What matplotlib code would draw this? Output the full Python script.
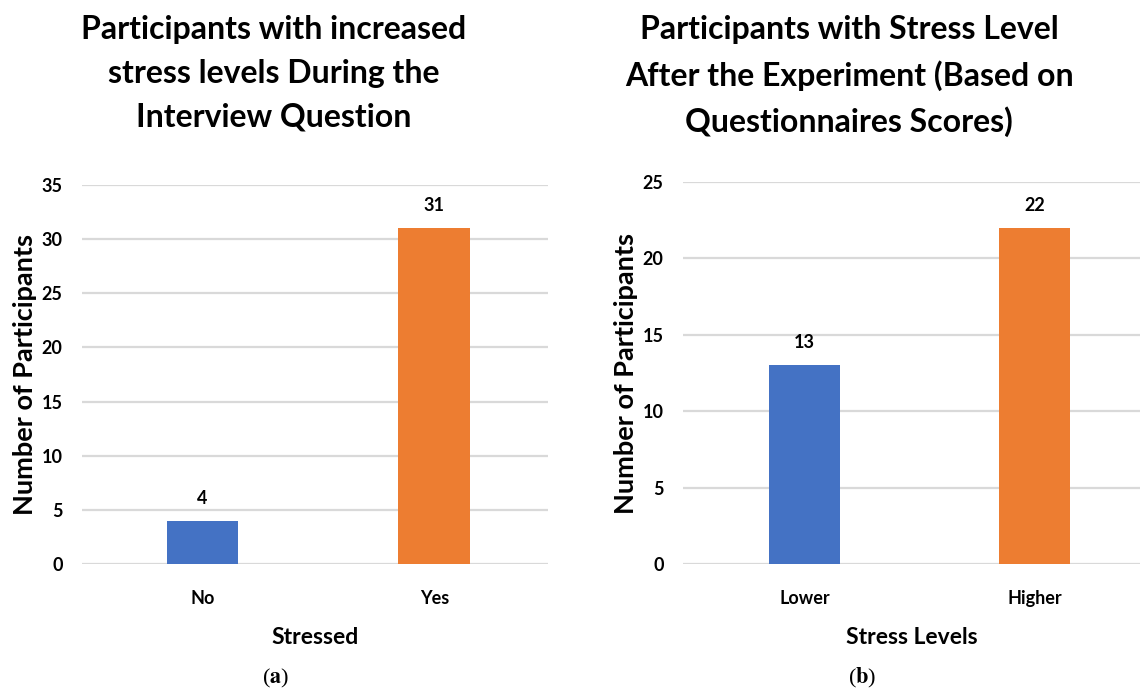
import matplotlib
matplotlib.use("Agg")
import matplotlib.pyplot as plt

plt.rcParams["font.family"] = ["Lato", "DejaVu Sans"]
plt.rcParams["mathtext.fontset"] = "stix"

BLUE = "#4472C4"
ORANGE = "#ED7D31"
GRID = "#d9d9d9"

stressed_labels = ["No", "Yes"]
stressed_counts = [4, 31]

level_labels = ["Lower", "Higher"]
level_counts = [13, 22]

W, H = 1142, 696
fig = plt.figure(figsize=(W / 100, H / 100), dpi=100)


def draw_panel(ax, labels, counts, ymax, xlim, xlabel):
    x = range(len(labels))
    ax.bar(x, counts, width=0.31, color=[BLUE, ORANGE], zorder=3)
    for xi, c in zip(x, counts):
        ax.annotate(str(c), (xi, c), xytext=(0, 10), textcoords="offset points",
                    ha="center", va="bottom", fontsize=13, fontweight="bold")
    ax.set_ylim(0, ymax)
    ax.set_xlim(*xlim)
    ax.set_yticks(range(0, ymax + 1, 5))
    ax.yaxis.grid(True, color=GRID, linewidth=1.6, zorder=0)
    ax.set_xticks(list(x))
    ax.set_xticklabels(labels)
    for s in ax.spines.values():
        s.set_visible(False)
    ax.tick_params(length=0)
    ax.tick_params(axis="y", pad=14, labelsize=13)
    ax.tick_params(axis="x", pad=19, labelsize=13)
    for t in ax.get_xticklabels() + ax.get_yticklabels():
        t.set_fontweight("bold")
    ax.set_ylabel("Number of Participants", fontsize=19.5, fontweight="bold", labelpad=3)
    ax.set_xlabel(xlabel, fontsize=16.5, fontweight="bold", labelpad=14)


ax1 = fig.add_axes([82 / W, 1 - 564 / H, 466 / W, (564 - 185) / H])
draw_panel(ax1, stressed_labels, stressed_counts, 35, (-0.52, 1.49), "Stressed")

ax2 = fig.add_axes([683 / W, 1 - 564 / H, 457 / W, (564 - 182) / H])
draw_panel(ax2, level_labels, level_counts, 25, (-0.53, 1.46), "Stress Levels")

fig.text(274 / W, 1 - 15 / H,
         "Participants with increased\nstress levels During the\nInterview Question",
         ha="center", va="top", fontsize=23, fontweight="bold", linespacing=1.62)
fig.text(849 / W, 1 - 15 / H,
         "Participants with Stress Level\nAfter the Experiment (Based on\nQuestionnaires Scores)",
         ha="center", va="top", fontsize=23, fontweight="bold", linespacing=1.62)

fig.text(276 / W, 1 - 678 / H, r"($\mathbf{a}$)", ha="center", va="center",
         fontsize=16, family="Liberation Serif")
fig.text(862 / W, 1 - 678 / H, r"($\mathbf{b}$)", ha="center", va="center",
         fontsize=16, family="Liberation Serif")

fig.savefig("out.png", dpi=100)
